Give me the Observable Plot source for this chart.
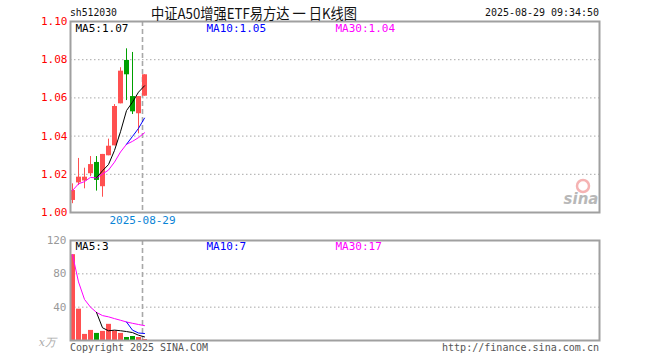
<!DOCTYPE html>
<html><head><meta charset="utf-8">
<script src="https://cdn.jsdelivr.net/npm/d3@7"></script>
<script src="https://cdn.jsdelivr.net/npm/@observablehq/plot@0.6"></script>
<style>
html,body{margin:0;padding:0;background:#fff;}
#wrap{position:relative;width:660px;height:360px;overflow:hidden;background:#fff;}
#wrap > svg{position:absolute;left:0;}
</style></head><body><div id="wrap"></div>
<script>
// ---- data ----
const dates = ["2025-08-13","2025-08-14","2025-08-15","2025-08-18","2025-08-19","2025-08-20","2025-08-21","2025-08-22","2025-08-25","2025-08-26","2025-08-27","2025-08-28","2025-08-29"];
const opens  = [1.0063,1.0155,1.0165,1.0203,1.0262,1.0135,1.0297,1.0349,1.0569,1.0796,1.0607,1.0517,1.0609];
const highs  = [1.0150,1.0283,1.0232,1.0293,1.0293,1.0304,1.0384,1.0565,1.0758,1.0857,1.0838,1.0607,1.0721];
const lows   = [1.0046,1.0141,1.0124,1.0188,1.0112,1.0080,1.0297,1.0349,1.0569,1.0586,1.0513,1.0412,1.0609];
const closes = [1.0115,1.0185,1.0185,1.0251,1.0168,1.0304,1.0347,1.0555,1.0740,1.0721,1.0527,1.0607,1.0721];
const volumes = [103,37.6,7.3,12.1,8.5,10.9,19.4,11.3,8.5,3.6,4.8,3.6,1.2];
const priceTicks = [1.00,1.02,1.04,1.06,1.08,1.10];
const priceGrid = [1.02,1.04,1.06,1.08];
const volTicks = [40,80,120];
const volGrid = [40,80];
const markDate = "2025-08-29";
const priceLegend = ["MA5:1.07","MA10:1.05","MA30:1.04"];
const volLegend = ["MA5:3","MA10:7","MA30:17"];
const legendColors = ["#000000","#0000ff","#ff00ff"];
const slots = 88;

// ---- derived ----
function ma(vals, n, minCount){
  return vals.map((v,i)=>{
    if (i+1 < minCount) return null;
    const s = vals.slice(Math.max(0,i-n+1), i+1);
    return d3.mean(s);
  });
}
const cma5 = ma(closes,5,5), cma10 = ma(closes,10,10), cma30 = ma(closes,30,1);
const vma5 = ma(volumes,5,5), vma10 = ma(volumes,10,10), vma30 = ma(volumes,30,1);
const rows = dates.map((d,i)=>({i, date:d, open:opens[i], high:highs[i], low:lows[i], close:closes[i], vol:volumes[i],
  up: closes[i] >= opens[i], ma5:cma5[i], ma10:cma10[i], ma30:cma30[i], v5:vma5[i], v10:vma10[i], v30:vma30[i]}));
const markIdx = [dates.indexOf(markDate)];
const RED = "#ff5050", GREEN = "#00a000";
const col = d => d.up ? RED : GREEN;
const FONT = "'DejaVu Sans Mono', monospace";
const xDomain = [-1/3, slots - 1/6];
const legendDx = [5, 136, 265];
function legendMarks(labels, dy){
  return labels.map((s,k)=>Plot.text([s], {frameAnchor:"top-left", fill:legendColors[k], dx:legendDx[k], dy, textAnchor:"start", fontSize:"11px"}));
}

const price = Plot.plot({
  width:660, height:230, marginLeft:70, marginRight:61, marginTop:21, marginBottom:18,
  style:{fontFamily:FONT, fontSize:"10.5px", background:"transparent", overflow:"visible"},
  x:{type:"linear", domain:xDomain, axis:null},
  y:{domain:[1.00,1.10], axis:null},
  marks:[
    Plot.ruleY(priceGrid, {stroke:"#a8a8a8", strokeDasharray:"1.5,2.5"}),
    Plot.ruleX(markIdx, {stroke:"#a8a8a8", strokeWidth:1.6, strokeDasharray:"5,3", dx:-2}),
    Plot.ruleX(rows, {x:"i", y1:"low", y2:"high", stroke:col, strokeWidth:1}),
    Plot.ruleX(rows, {x:"i", y1:"open", y2:"close", stroke:col, strokeWidth:5}),
    Plot.line(rows.filter(d=>d.ma30!=null), {x:"i", y:"ma30", stroke:"#ff00ff", strokeWidth:1}),
    Plot.line(rows.filter(d=>d.ma10!=null), {x:"i", y:"ma10", stroke:"#0000ff", strokeWidth:1}),
    Plot.line(rows.filter(d=>d.ma5!=null), {x:"i", y:"ma5", stroke:"#000000", strokeWidth:1}),
    Plot.frame({stroke:"#a0a0a0", strokeWidth:2}),
    Plot.axisY(priceTicks, {tickSize:0, tickPadding:3, tickFormat:d3.format(".2f"), fill:"#ff0000", label:null, fontSize:"11px"}),
    Plot.axisX(markIdx, {tickSize:0, tickPadding:4, tickFormat:i=>dates[i], fill:"#0a84d6", label:null, dx:-2, fontSize:"11px"}),
    ...legendMarks(priceLegend, 3)
  ]
});
price.style.top = "0px";

const vol = Plot.plot({
  width:660, height:125, marginLeft:70, marginRight:61, marginTop:10, marginBottom:15,
  style:{fontFamily:FONT, fontSize:"10.5px", background:"transparent", overflow:"visible"},
  x:{type:"linear", domain:xDomain, axis:null},
  y:{domain:[0,120], axis:null},
  marks:[
    Plot.ruleY(volGrid, {stroke:"#a8a8a8", strokeDasharray:"1.5,2.5"}),
    Plot.ruleX(markIdx, {stroke:"#a8a8a8", strokeWidth:1.6, strokeDasharray:"5,3", dx:-2}),
    Plot.ruleX(rows, {x:"i", y1:0, y2:"vol", stroke:col, strokeWidth:5}),
    Plot.line(rows.filter(d=>d.v30!=null), {x:"i", y:"v30", stroke:"#ff00ff", strokeWidth:1}),
    Plot.line(rows.filter(d=>d.v10!=null), {x:"i", y:"v10", stroke:"#0000ff", strokeWidth:1}),
    Plot.line(rows.filter(d=>d.v5!=null), {x:"i", y:"v5", stroke:"#000000", strokeWidth:1}),
    Plot.frame({stroke:"#a0a0a0", strokeWidth:2}),
    Plot.axisY(volTicks, {tickSize:0, tickPadding:4, tickFormat:d=>String(d), fill:"#999999", label:null, fontSize:"11px"}),
    ...legendMarks(volLegend, 2)
  ]
});
vol.style.top = "230px";

const wrap = document.getElementById("wrap");
wrap.appendChild(price);
wrap.appendChild(vol);

// header / footer / watermark overlay
const ns = "http://www.w3.org/2000/svg";
const ov = document.createElementNS(ns, "svg");
ov.setAttribute("width", 660); ov.setAttribute("height", 360);
ov.style.top = "0px"; ov.style.pointerEvents = "none";
function txt(s, x, y, opts={}){
  const t = document.createElementNS(ns, "text");
  t.textContent = s;
  t.setAttribute("x", x); t.setAttribute("y", y);
  t.setAttribute("font-family", opts.family || FONT);
  t.setAttribute("font-size", opts.size || 10.5);
  t.setAttribute("fill", opts.fill || "#000");
  t.setAttribute("dominant-baseline", "central");
  if (opts.anchor) t.setAttribute("text-anchor", opts.anchor);
  if (opts.weight) t.setAttribute("font-weight", opts.weight);
  if (opts.style) t.setAttribute("font-style", opts.style);
  if (opts.len) { t.setAttribute("textLength", opts.len); t.setAttribute("lengthAdjust", "spacingAndGlyphs"); }
  if (opts.opacity) t.setAttribute("opacity", opts.opacity);
  ov.appendChild(t);
  return t;
}
txt("sh512030", 70, 12, {size:10.5, fill:"#111", len:47});
txt("中证A50增强ETF易方达 一 日K线图", 151, 12, {size:14.5, fill:"#111", family:"'Noto Sans CJK SC', sans-serif", len:206});
txt("2025-08-29 09:34:50", 599, 12, {size:10.5, fill:"#111", anchor:"end", len:114});
txt("Copyright 2025 SINA.COM", 70, 347, {size:10.5, fill:"#555", len:138});
txt("http://finance.sina.com.cn", 599, 347, {size:10.5, fill:"#555", anchor:"end", len:157});
txt("x万", 56, 342, {size:11, fill:"#aaa", anchor:"end", style:"italic", family:"'DejaVu Serif', serif"});
// sina watermark
const c = document.createElementNS(ns, "circle");
c.setAttribute("cx", 583); c.setAttribute("cy", 186); c.setAttribute("r", 6);
c.setAttribute("fill", "none"); c.setAttribute("stroke", "#f2a0a0"); c.setAttribute("stroke-width", 2.5); c.setAttribute("opacity", 0.8);
ov.appendChild(c);
txt("sina", 581, 199, {size:15, fill:"#b8b8b8", anchor:"middle", style:"italic", weight:"bold", family:"'DejaVu Sans', sans-serif"});
wrap.appendChild(ov);
</script></body></html>
